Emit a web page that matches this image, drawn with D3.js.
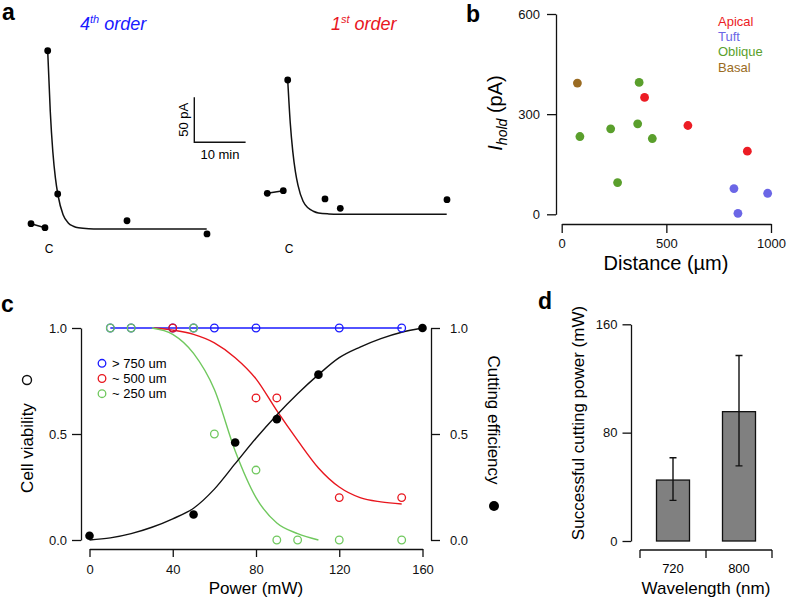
<!DOCTYPE html>
<html><head><meta charset="utf-8">
<script src="https://cdn.jsdelivr.net/npm/d3@7"></script>
<style>
body{margin:0;background:#fff}
svg{display:block;font-family:"Liberation Sans",Arial,Helvetica,sans-serif}
</style>
</head><body>
<svg id="fig" width="787" height="602"></svg>
<script>
// ---------- Panel a data (time in min relative to cut, current in pA, relative) ----------
const a4Pre  = [[-3.25,18.1],[-0.53,13.7]];
const a4Post = [[0,210.3],[1.95,51.1],[15.46,21.4],[31.05,6.7]];
const a4Fit  = [[0,210],[0.5,143],[1,98],[1.5,69],[2,50],[3,28],[4,19],[5,15.3],[6,13.5],[8,12.5],[10,12.3],[31,12.2]];
const a1Pre  = [[-3.98,51.9],[-0.86,54.8]];
const a1Post = [[0,177.8],[7.27,45.6],[10.25,35.2],[31.05,44.8]];
const a1Fit  = [[0,178],[0.5,130],[1,98],[1.5,76],[2,61],[3,43],[4,35.5],[5,32],[6,30],[8,29],[10,28.7],[31,28.6]];
const scaleBarPA = 50, scaleBarMin = 10;

// ---------- Panel b data ----------
const bCategories = ["Apical","Tuft","Oblique","Basal"];
const bColors = ["#ec1c24","#6b66e6","#5a9f2c","#9a6b22"];
const apicalPts  = [[396,350],[603,266],[887,189]];
const tuftPts    = [[823,77],[842,3],[984,63]];
const obliquePts = [[370,395],[87,233],[234,256],[363,271],[433,227],[267,95]];
const basalPts   = [[75,393]];
const bXTicks = [0,500,1000];
const bYTicks = [0,300,600];

// ---------- Panel c data ----------
const cLegend = ["> 750 um","~ 500 um","~ 250 um"];
const cColors = ["#1a1aff","#e8161e","#70c85e"];
const bluePts  = [[10,1],[20,1],[40,1],[50,1],[60,1],[80,1],[120,1],[150,1]];
const redPts   = [[40,1],[80,0.67],[90,0.67],[120,0.2],[150,0.2]];
const greenPts = [[10,1],[20,1],[50,1],[60,0.5],[80,0.33],[90,0],[100,0],[120,0],[150,0]];
const blackPts = [[0,0.02],[50,0.12],[70,0.46],[90,0.57],[110,0.78],[160,1.0]];
const blueFit  = [[10,1],[150,1]];
const redFit   = [[31,1],[40,0.99],[50,0.97],[60,0.93],[70,0.86],[80,0.76],[90,0.61],[100,0.47],[110,0.34],[120,0.25],[130,0.2],[140,0.18],[150,0.17]];
const greenFit = [[30,1],[40,0.97],[50,0.88],[60,0.71],[70,0.42],[80,0.2],[90,0.08],[100,0.03],[110,0.0]];
const blackFit = [[0,0],[10,0.01],[20,0.03],[30,0.06],[40,0.1],[50,0.15],[60,0.24],[70,0.36],[80,0.48],[90,0.59],[100,0.69],[110,0.78],[120,0.86],[130,0.91],[140,0.95],[150,0.98],[160,1.0]];
const cXTicks = [0,40,80,120,160];
const cYTicks = [0,0.5,1];

// ---------- Panel d data ----------
const wavelengths = ["720","800"];
const cutPower    = [45,95.5];
const cutErrLow   = [30,55.5];
const cutErrHigh  = [61.5,137];
const dYTicks = [0,80,160];

const svg = d3.select("#fig");
svg.append("rect").attr("width",787).attr("height",602).attr("fill","#fff");

function styleAxis(g, fs){
  g.attr("font-family",null).attr("font-size",fs);
  g.selectAll("path,line").attr("stroke","#111").attr("stroke-width",1.3);
  g.selectAll("text").attr("fill","#111");
}
function letter(t,x,y){
  svg.append("text").attr("x",x).attr("y",y).attr("font-size",23).attr("font-weight","bold").text(t);
}

// ================= Panel a =================
letter("a",2,20);
const yA = d3.scaleLinear().domain([0,50]).range([240,195]);
const xA4 = d3.scaleLinear().domain([0,10]).range([47.7,99]);
const xA1 = d3.scaleLinear().domain([0,10]).range([287.7,339]);
function trace(xs, pre, post, fit){
  const line = d3.line().x(d=>xs(d[0])).y(d=>yA(d[1]));
  svg.append("path").attr("d",line.curve(d3.curveMonotoneX)(fit)).attr("fill","none").attr("stroke","#111").attr("stroke-width",1.5);
  svg.append("path").attr("d",d3.line().x(d=>xs(d[0])).y(d=>yA(d[1]))(pre)).attr("fill","none").attr("stroke","#111").attr("stroke-width",1.5);
  svg.selectAll(null).data(pre.concat(post)).enter().append("circle")
    .attr("cx",d=>xs(d[0])).attr("cy",d=>yA(d[1])).attr("r",3.4).attr("fill","#000");
  svg.append("text").attr("x",xs(0)+1.5).attr("y",253).attr("text-anchor","middle").attr("font-size",12).text("C");
}
trace(xA4,a4Pre,a4Post,a4Fit);
trace(xA1,a1Pre,a1Post,a1Fit);
const t4 = svg.append("text").attr("x",80).attr("y",30).attr("font-size",18).attr("font-style","italic").attr("fill","#1a1aff");
t4.append("tspan").text("4");
t4.append("tspan").attr("font-size",11).attr("dy",-7).text("th");
t4.append("tspan").attr("dy",7).text(" order");
const t1 = svg.append("text").attr("x",331).attr("y",30).attr("font-size",18).attr("font-style","italic").attr("fill","#e8161e");
t1.append("tspan").text("1");
t1.append("tspan").attr("font-size",11).attr("dy",-7).text("st");
t1.append("tspan").attr("dy",7).text(" order");
// scale bar
const sbX = 194.3, sbY = 142.3;
const sbH = yA(0)-yA(scaleBarPA), sbW = xA4(scaleBarMin)-xA4(0);
svg.append("path").attr("d",`M${sbX},${sbY-sbH}V${sbY}H${sbX+sbW}`).attr("fill","none").attr("stroke","#111").attr("stroke-width",1.4);
svg.append("text").attr("transform",`translate(${sbX-11},${sbY-sbH/2}) rotate(-90)`).attr("text-anchor","middle").attr("dy","0.35em").attr("font-size",13).text(scaleBarPA+" pA");
svg.append("text").attr("x",sbX+sbW/2).attr("y",sbY+17).attr("text-anchor","middle").attr("font-size",13).text(scaleBarMin+" min");

// ================= Panel b =================
letter("b",466,22);
const xB = d3.scaleLinear().domain([0,1000]).range([561.7,771]);
const yB = d3.scaleLinear().domain([0,600]).range([214.3,14]);
styleAxis(svg.append("g").attr("transform","translate(556,0)")
  .call(d3.axisLeft(yB).tickValues(bYTicks).tickFormat(d3.format("d")).tickSize(9).tickSizeOuter(0).tickPadding(7)),13);
styleAxis(svg.append("g").attr("transform","translate(0,224)")
  .call(d3.axisBottom(xB).tickValues(bXTicks).tickFormat(d3.format("d")).tickSize(9).tickSizeOuter(0).tickPadding(6)),13);
svg.append("text").attr("x",666).attr("y",270).attr("text-anchor","middle").attr("font-size",20).text("Distance (µm)");
const yl = svg.append("text").attr("transform","translate(495,113) rotate(-90)").attr("text-anchor","middle").attr("dy","0.35em").attr("font-size",20);
yl.append("tspan").attr("font-style","italic").text("I");
yl.append("tspan").attr("font-style","italic").attr("font-size",14).attr("dy",5).text("hold");
yl.append("tspan").attr("dy",-5).text(" (pA)");
const bSets = [apicalPts,tuftPts,obliquePts,basalPts];
bSets.forEach((pts,i)=>{
  svg.selectAll(null).data(pts).enter().append("circle")
    .attr("cx",d=>xB(d[0])).attr("cy",d=>yB(d[1])).attr("r",4.4).attr("fill",bColors[i]);
});
bCategories.forEach((c,i)=>{
  svg.append("text").attr("x",718).attr("y",26+i*15.2).attr("font-size",13).attr("fill",bColors[i]).text(c);
});

// ================= Panel c =================
letter("c",1,312);
const xC = d3.scaleLinear().domain([0,160]).range([89.5,422.5]);
const yC = d3.scaleLinear().domain([0,1]).range([540,328]);
styleAxis(svg.append("g").attr("transform","translate(81,0)")
  .call(d3.axisLeft(yC).tickValues(cYTicks).tickFormat(d3.format(".1f")).tickSize(9).tickSizeOuter(0).tickPadding(5)),13);
styleAxis(svg.append("g").attr("transform","translate(431,0)")
  .call(d3.axisRight(yC).tickValues(cYTicks).tickFormat(d3.format(".1f")).tickSize(9).tickSizeOuter(0).tickPadding(10)),13);
styleAxis(svg.append("g").attr("transform","translate(0,549)")
  .call(d3.axisBottom(xC).tickValues(cXTicks).tickSize(8).tickSizeOuter(0).tickPadding(8)),13);
svg.append("text").attr("x",xC(80)).attr("y",594).attr("text-anchor","middle").attr("font-size",17).text("Power (mW)");
svg.append("text").attr("transform","translate(27,448) rotate(-90)").attr("text-anchor","middle").attr("dy","0.35em").attr("font-size",17).text("Cell viability");
svg.append("circle").attr("cx",27).attr("cy",380).attr("r",4.5).attr("fill","none").attr("stroke","#111").attr("stroke-width",1.4);
svg.append("text").attr("transform","translate(494,420) rotate(90)").attr("text-anchor","middle").attr("dy","0.35em").attr("font-size",17).text("Cutting efficiency");
svg.append("circle").attr("cx",494).attr("cy",506).attr("r",5).attr("fill","#000");

const lineC = d3.line().x(d=>xC(d[0])).y(d=>yC(d[1])).curve(d3.curveMonotoneX);
[[blueFit,cColors[0]],[redFit,cColors[1]],[greenFit,cColors[2]],[blackFit,"#111"]].forEach(([f,col])=>{
  svg.append("path").attr("d",lineC(f)).attr("fill","none").attr("stroke",col).attr("stroke-width",1.4);
});
[[bluePts,cColors[0]],[redPts,cColors[1]],[greenPts,cColors[2]]].forEach(([pts,col])=>{
  svg.selectAll(null).data(pts).enter().append("circle")
    .attr("cx",d=>xC(d[0])).attr("cy",d=>yC(d[1])).attr("r",3.8)
    .attr("fill","none").attr("stroke",col).attr("stroke-width",1.3);
});
svg.selectAll(null).data(blackPts).enter().append("circle")
  .attr("cx",d=>xC(d[0])).attr("cy",d=>yC(d[1])).attr("r",4.3).attr("fill","#000");
cLegend.forEach((t,i)=>{
  const y = 363.3+i*15.2;
  svg.append("circle").attr("cx",102).attr("cy",y).attr("r",3.8).attr("fill","none").attr("stroke",cColors[i]).attr("stroke-width",1.3);
  svg.append("text").attr("x",112).attr("y",y).attr("dy","0.36em").attr("font-size",13).text(t);
});

// ================= Panel d =================
letter("d",538,309);
const yD = d3.scaleLinear().domain([0,160]).range([541,324.3]);
const xD = d3.scaleBand().domain(wavelengths).range([640,772]).paddingInner(0.5).paddingOuter(0.25);
styleAxis(svg.append("g").attr("transform","translate(631,0)")
  .call(d3.axisLeft(yD).tickValues(dYTicks).tickSize(8.5).tickSizeOuter(0).tickPadding(5)),13);
const step = xD.step();
const bounds = [xD.range()[0]].concat(wavelengths.map(w=>xD(w)-step*xD.paddingOuter()+step));
const dAx = svg.append("g");
dAx.append("path").attr("d",`M${xD.range()[0]},550H${xD.range()[1]}`).attr("stroke","#111").attr("stroke-width",1.3);
dAx.selectAll(null).data(bounds).enter().append("line")
  .attr("x1",d=>d).attr("x2",d=>d).attr("y1",550).attr("y2",558).attr("stroke","#111").attr("stroke-width",1.3);
dAx.selectAll(null).data(wavelengths).enter().append("text")
  .attr("x",d=>xD(d)+xD.bandwidth()/2).attr("y",568).attr("dy","0.35em").attr("text-anchor","middle").attr("font-size",13).text(d=>d);
svg.append("text").attr("x",706).attr("y",594).attr("text-anchor","middle").attr("font-size",17).text("Wavelength (nm)");
svg.append("text").attr("transform","translate(578,423) rotate(-90)").attr("text-anchor","middle").attr("dy","0.35em").attr("font-size",17).text("Successful cutting power (mW)");
wavelengths.forEach((w,i)=>{
  svg.append("rect").attr("x",xD(w)).attr("width",xD.bandwidth())
    .attr("y",yD(cutPower[i])).attr("height",yD(0)-yD(cutPower[i]))
    .attr("fill","#808080").attr("stroke","#111").attr("stroke-width",1.3);
  const cx = xD(w)+xD.bandwidth()/2;
  svg.append("path").attr("d",`M${cx},${yD(cutErrLow[i])}V${yD(cutErrHigh[i])}M${cx-3.5},${yD(cutErrLow[i])}H${cx+3.5}M${cx-3.5},${yD(cutErrHigh[i])}H${cx+3.5}`)
    .attr("fill","none").attr("stroke","#111").attr("stroke-width",1.4);
});
</script>
</body></html>
